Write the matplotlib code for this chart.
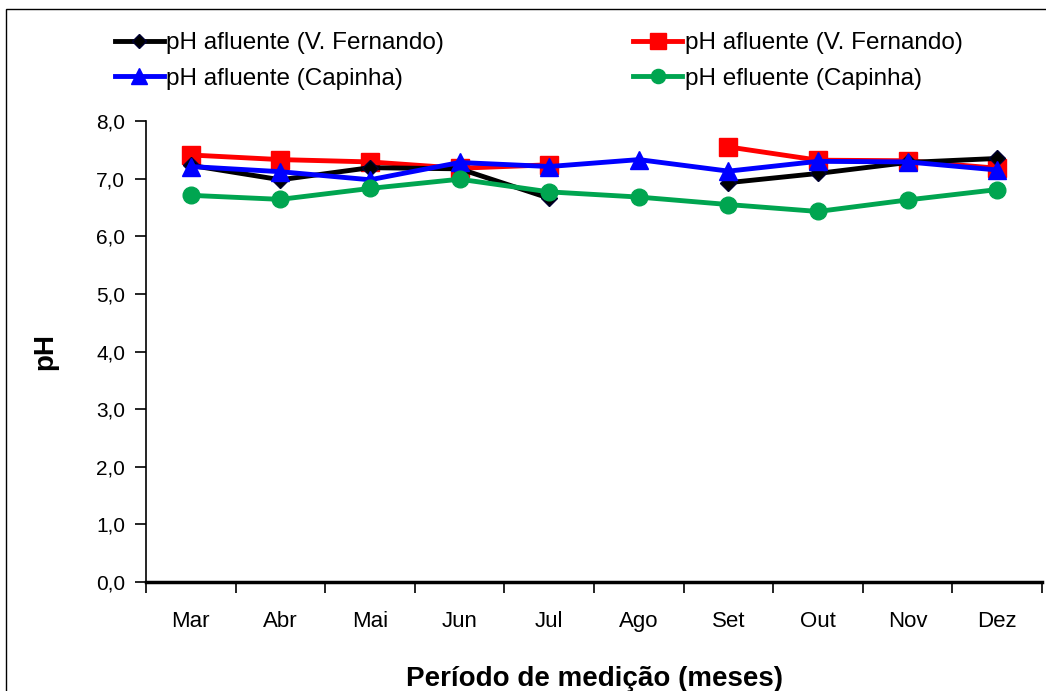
import numpy as np
import matplotlib.pyplot as plt
from matplotlib.patches import Rectangle

plt.rcParams['font.family'] = ['Liberation Sans', 'DejaVu Sans']

# Data
meses = ['Mar', 'Abr', 'Mai', 'Jun', 'Jul', 'Ago', 'Set', 'Out', 'Nov', 'Dez']
afl_vf_preto = [7.23, 6.98, 7.19, 7.17, 6.66, np.nan, 6.93, 7.09, 7.28, 7.35]
afl_vf_verm = [7.41, 7.33, 7.29, 7.18, 7.24, np.nan, 7.55, 7.32, 7.31, 7.18]
afl_capinha = [7.21, 7.12, 6.98, 7.28, 7.21, 7.33, 7.13, 7.30, 7.29, 7.15]
efl_capinha = [6.71, 6.64, 6.83, 6.99, 6.77, 6.68, 6.55, 6.43, 6.63, 6.81]

yticks = np.arange(0, 8.01, 1.0)

fig = plt.figure(figsize=(10.46, 6.91), dpi=100)
ax = fig.add_axes([0.1396, 0.1577, 0.8566, 0.6672])

x = np.arange(len(meses))
lw = 3.5
ax.plot(x, afl_vf_preto, color='black', lw=lw, marker='D', ms=8,
        mec='#000033', label='pH afluente (V. Fernando)', zorder=3)
ax.plot(x, afl_vf_verm, color='#ff0000', lw=lw, marker='s', ms=13,
        label='pH afluente (V. Fernando)', zorder=2)
ax.plot(x, afl_capinha, color='#0000ff', lw=lw, marker='^', ms=13,
        label='pH afluente (Capinha)', zorder=4)
ax.plot(x, efl_capinha, color='#00a550', lw=lw, marker='o', ms=12,
        label='pH efluente (Capinha)', zorder=5)

ax.set_xlim(-0.5, len(meses) - 0.5)
ax.set_ylim(0, 8)
ax.set_yticks(yticks)
ax.set_yticklabels([f'{v:.1f}'.replace('.', ',') for v in yticks], fontsize=15)
ax.set_xticks(np.arange(len(meses) + 1) - 0.5)
ax.set_xticklabels([])
ax.set_xticks(x, minor=True)
ax.set_xticklabels(meses, minor=True, fontsize=16)
ax.tick_params(axis='x', which='major', length=8, width=1.2, direction='out')
ax.tick_params(axis='x', which='minor', length=0, pad=21)
ax.tick_params(axis='y', length=8, width=1.2, direction='out', pad=7)

for s in ['top', 'right']:
    ax.spines[s].set_visible(False)
ax.spines['bottom'].set_linewidth(2.5)
ax.spines['left'].set_linewidth(1.2)

ax.set_xlabel('Período de medição (meses)', fontsize=20, fontweight='bold', labelpad=24)
ax.set_ylabel('pH', fontsize=20, fontweight='bold')
ax.yaxis.set_label_coords(-0.098, 0.5)

# legend: two columns at top
handles, labels = ax.get_legend_handles_labels()
order = [0, 2, 1, 3]
fig.legend([handles[i] for i in order], [labels[i] for i in order],
           loc='upper left', bbox_to_anchor=(0.089, 0.985), ncol=2,
           frameon=False, fontsize=17.5, handlelength=2.0, handletextpad=0.1,
           columnspacing=7.8, labelspacing=0.55, markerscale=0.85)

# outer frame of the figure
fig.patches.append(Rectangle((6 / 1046, -0.1), 1.2, (691 - 9) / 691 + 0.1,
                             transform=fig.transFigure, fill=False,
                             edgecolor='black', lw=1))

fig.savefig('out.png', dpi=100)
